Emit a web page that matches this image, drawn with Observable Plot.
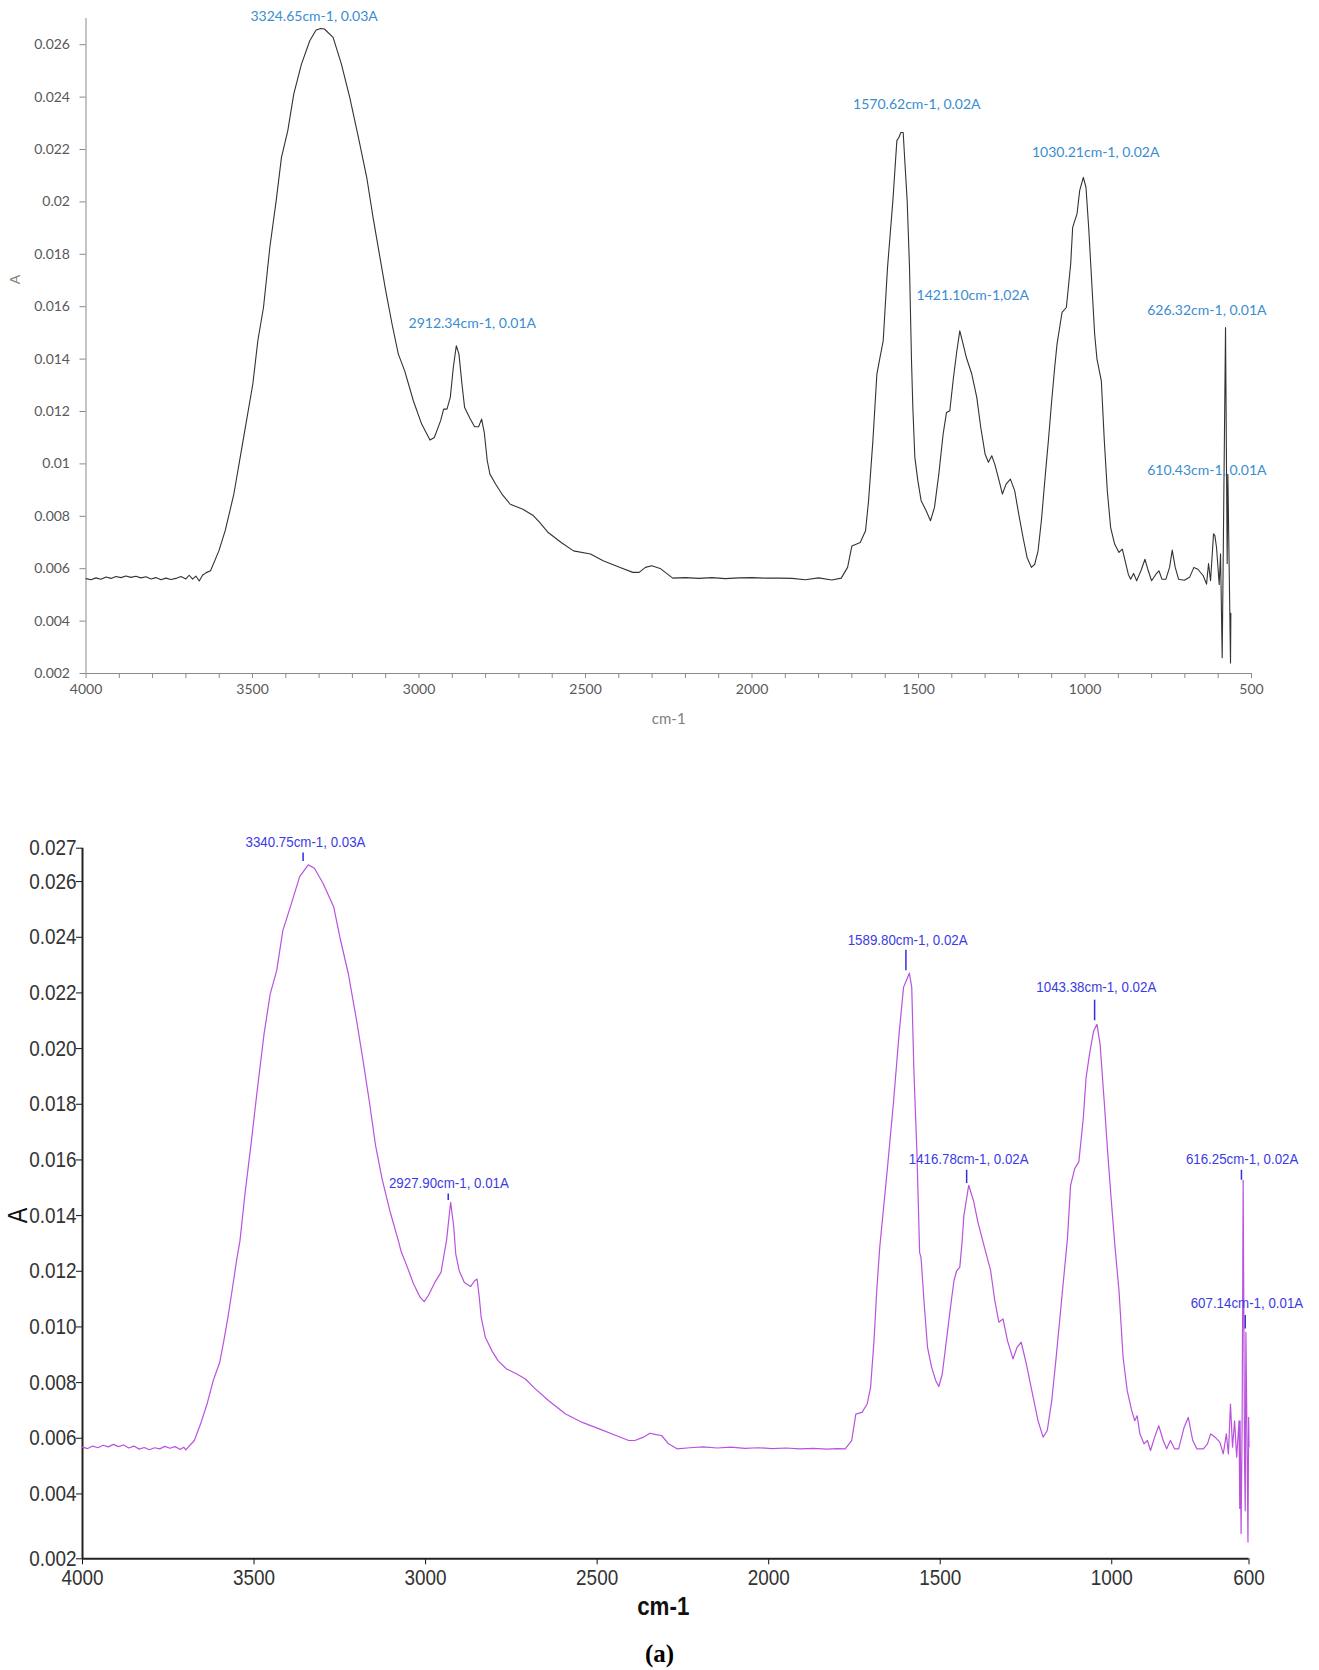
<!DOCTYPE html>
<html>
<head>
<meta charset="utf-8">
<script src="https://cdn.jsdelivr.net/npm/d3@7"></script>
<script src="https://cdn.jsdelivr.net/npm/@observablehq/plot@0.6"></script>
<style>
  html, body { margin: 0; padding: 0; background: #fff; }
  #top { position: absolute; left: 0; top: 0; }
  #bottom { position: absolute; left: 0; top: 800px; }
  #cap { position: absolute; left: 0; top: 1640px; width: 1319px; text-align: center;
         font: bold 25px "Liberation Serif", "Times New Roman", serif; line-height: 28px; color: #000; }
  svg { overflow: visible; }
</style>
</head>
<body>
<div id="top"></div>
<div id="bottom"></div>
<div id="cap">(a)</div>
<script>
// ---------- DATA: top spectrum (wavenumber cm-1, absorbance A) ----------
const topSpectrum = [
  [4000,0.00562],[3985,0.00558],[3970,0.00565],[3955,0.0056],[3940,0.00568],[3925,0.00563],[3910,0.0057],
  [3895,0.00566],[3880,0.00572],[3865,0.00567],[3850,0.00571],[3835,0.00565],[3820,0.00569],[3805,0.00561],
  [3790,0.00566],[3775,0.00558],[3760,0.00564],[3745,0.00559],[3730,0.00563],[3715,0.0057],[3700,0.00561],
  [3690,0.00575],[3680,0.0056],[3670,0.00572],[3660,0.00553],[3650,0.00575],[3639,0.00585],
  [3626,0.00592],[3601,0.00668],[3582,0.00745],[3556,0.00885],[3537,0.01025],[3518,0.01165],[3499,0.01305],
  [3484,0.0147],[3467,0.01597],[3448,0.01826],[3429,0.02004],[3413,0.0217],[3394,0.02272],[3376,0.02412],
  [3353,0.02526],[3328,0.02615],[3309,0.02656],[3295,0.02662],[3284,0.0266],[3258,0.02628],[3233,0.02526],
  [3208,0.02399],[3182,0.02246],[3157,0.02094],[3138,0.01941],[3119,0.01801],[3100,0.01661],[3081,0.01534],
  [3062,0.01419],[3043,0.01355],[3017,0.01241],[2992,0.01152],[2967,0.01091],[2954,0.01101],[2935,0.01165],
  [2926,0.01209],[2916,0.01209],[2906,0.01254],[2897,0.01368],[2888,0.01451],[2880,0.01419],[2871,0.01305],
  [2863,0.01215],[2846,0.01171],[2833,0.01142],[2821,0.01142],[2812,0.01171],[2804,0.0112],[2795,0.01012],
  [2787,0.00961],[2770,0.00923],[2751,0.00885],[2726,0.00846],[2688,0.00827],[2656,0.00802],[2637,0.00776],
  [2612,0.00738],[2573,0.007],[2536,0.00668],[2485,0.00656],[2447,0.0063],[2396,0.00605],[2358,0.00586],
  [2339,0.00586],[2320,0.00605],[2301,0.00611],[2276,0.00601],[2238,0.00564],
  [2200,0.00566],[2160,0.00563],[2120,0.00566],[2080,0.00562],[2040,0.00565],[2000,0.00566],[1960,0.00564],
  [1920,0.00564],[1880,0.00563],[1840,0.00558],[1800,0.00565],[1760,0.00557],[1732,0.00564],
  [1713,0.00605],[1700,0.00687],[1675,0.007],[1659,0.00745],[1650,0.00859],[1637,0.01088],[1625,0.01343],
  [1618,0.0139],[1606,0.0147],[1593,0.0175],[1577,0.02004],[1565,0.02234],[1559,0.02246],[1553,0.02265],
  [1546,0.02265],[1540,0.02132],[1534,0.02004],[1527,0.0175],[1521,0.01394],[1517,0.01215],[1511,0.01025],
  [1502,0.00936],[1492,0.00859],[1477,0.00821],[1464,0.00783],[1452,0.00834],[1439,0.00961],[1426,0.01114],
  [1416,0.01196],[1406,0.01203],[1395,0.0133],[1385,0.0143],[1376,0.01508],[1366,0.01457],[1356,0.01405],
  [1340,0.01343],[1325,0.01254],[1313,0.01139],[1300,0.01037],[1290,0.01006],[1280,0.01031],[1271,0.00999],
  [1258,0.00936],[1248,0.00885],[1237,0.00923],[1224,0.00942],[1211,0.00897],[1199,0.00808],[1186,0.00719],
  [1174,0.00643],[1161,0.00605],[1151,0.00617],[1141,0.00668],[1131,0.00783],[1119,0.00961],[1110,0.01088],
  [1100,0.01241],[1091,0.01368],[1084,0.01457],[1069,0.01578],[1056,0.01597],[1043,0.01763],[1037,0.01903],
  [1024,0.01954],[1016,0.02043],[1005,0.02094],[997,0.02055],[989,0.01903],[980,0.01699],[971,0.01495],
  [964,0.014],[951,0.01317],[942,0.01088],[933,0.00897],[923,0.00757],[911,0.00694],[898,0.00662],
  [888,0.00675],[882,0.00643],[870,0.00579],[863,0.0056],[854,0.00582],[845,0.00554],[832,0.00592],
  [820,0.00636],[810,0.00592],[800,0.00554],[787,0.00579],[778,0.00592],[769,0.0056],[757,0.0056],
  [746,0.00605],[738,0.00671],[729,0.00605],[719,0.0056],[702,0.00556],[686,0.00567],[673,0.00605],
  [661,0.00598],[645,0.00573],[635,0.00541],[629,0.0062],[623,0.00554],[614,0.00733],[610,0.00726],
  [605,0.00681],[597,0.0054],[593,0.00657],[588,0.0026],[578,0.0152],[573,0.0062],[571,0.0096],
  [563,0.0024],[562,0.0043]
];

// ---------- DATA: bottom spectrum ----------
const bottomSpectrum = [
  [4000,0.00568],[3985,0.00563],[3970,0.00572],[3955,0.00566],[3940,0.00575],[3925,0.00569],[3910,0.00578],
  [3895,0.0057],[3880,0.00576],[3865,0.00565],[3850,0.00572],[3835,0.00561],[3820,0.00567],[3805,0.00559],
  [3790,0.00566],[3775,0.00562],[3760,0.00571],[3745,0.00564],[3730,0.0057],[3715,0.0056],[3705,0.00568],
  [3699,0.00558],[3674,0.00592],[3656,0.00651],[3637,0.00723],[3619,0.00807],[3600,0.00873],[3588,0.00951],
  [3576,0.01035],[3564,0.01131],[3551,0.01238],[3541,0.0131],[3527,0.01472],[3508,0.01665],[3490,0.01858],
  [3471,0.02051],[3453,0.02196],[3434,0.0228],[3416,0.02425],[3391,0.02522],[3367,0.02618],[3342,0.0266],
  [3324,0.02648],[3299,0.02594],[3268,0.0251],[3250,0.02401],[3225,0.02268],[3201,0.021],[3182,0.01955],
  [3164,0.0181],[3146,0.01653],[3127,0.01533],[3103,0.01412],[3078,0.01304],[3072,0.01274],[3053,0.01214],
  [3035,0.01154],[3016,0.01107],[3004,0.01091],[2992,0.01113],[2973,0.0116],[2955,0.01196],[2946,0.01262],
  [2939,0.0131],[2927,0.01448],[2918,0.0136],[2912,0.01262],[2902,0.01202],[2887,0.0116],[2869,0.01145],
  [2857,0.01166],[2850,0.01172],[2844,0.01113],[2838,0.01035],[2826,0.00963],[2807,0.00915],[2789,0.00879],
  [2764,0.00849],[2734,0.00831],[2709,0.00813],[2685,0.00783],[2641,0.00735],[2592,0.00687],[2543,0.00657],
  [2494,0.00634],[2445,0.0061],[2408,0.00592],[2390,0.00592],[2365,0.00604],[2346,0.00618],[2328,0.00613],
  [2312,0.0061],[2292,0.0058],[2267,0.00562],
  [2230,0.00566],[2190,0.00569],[2150,0.00565],[2110,0.00568],[2070,0.00564],[2030,0.00566],[1990,0.00563],
  [1950,0.00565],[1910,0.00562],[1870,0.00564],[1830,0.00561],[1800,0.00563],[1777,0.00562],
  [1758,0.00592],[1746,0.00687],[1728,0.00693],[1713,0.00723],[1703,0.00783],[1693,0.00951],[1685,0.01131],
  [1676,0.0129],[1654,0.01569],[1636,0.0181],[1620,0.02051],[1607,0.0222],[1599,0.02244],[1590,0.02271],
  [1583,0.0222],[1577,0.01931],[1568,0.01629],[1560,0.01267],[1556,0.0125],[1546,0.01071],[1537,0.00927],
  [1525,0.00855],[1513,0.00807],[1504,0.00786],[1494,0.00831],[1482,0.00951],[1470,0.01071],[1460,0.01166],
  [1452,0.01202],[1443,0.01214],[1436,0.0131],[1431,0.014],[1417,0.01509],[1403,0.01454],[1390,0.01376],
  [1372,0.0129],[1353,0.01202],[1341,0.01095],[1329,0.01017],[1317,0.01029],[1304,0.00951],[1288,0.00885],
  [1276,0.00927],[1264,0.00945],[1249,0.00867],[1231,0.00759],[1215,0.00663],[1200,0.00604],[1188,0.00628],
  [1175,0.00735],[1163,0.00879],[1151,0.01035],[1139,0.0119],[1129,0.0132],[1120,0.01509],[1108,0.01569],
  [1096,0.01593],[1083,0.0175],[1075,0.01894],[1065,0.01979],[1053,0.02063],[1043,0.02087],[1034,0.02015],
  [1022,0.0181],[1012,0.01629],[1001,0.01448],[990,0.0128],[979,0.01131],[967,0.00891],[955,0.00771],
  [942,0.007],[933,0.00663],[926,0.00681],[918,0.00616],[906,0.0058],[896,0.00592],[887,0.00556],
  [875,0.00604],[863,0.00645],[850,0.00592],[840,0.00562],[829,0.00592],[817,0.00562],[805,0.00562],
  [789,0.0064],[777,0.00675],[764,0.00592],[752,0.00562],[733,0.00562],[721,0.0058],[712,0.00616],
  [699,0.00604],[685,0.00586],[675,0.00544],[666,0.00616],[660,0.00544],[654,0.00723],[648,0.00568],
  [642,0.00663],[636,0.00532],[629,0.00663],[627,0.00348],[626,0.00663],[623,0.00258],[620,0.00663],
  [617,0.01527],[613,0.0052],[611,0.0034],[609,0.00981],[606,0.0062],[603,0.00227],[601,0.00675],[600,0.0057]
];

// ---------- DATA: peak annotations ----------
const topPeakLabels = ["3324.65cm-1, 0.03A", "2912.34cm-1, 0.01A", "1570.62cm-1, 0.02A", "1421.10cm-1,02A",
                       "1030.21cm-1, 0.02A", "626.32cm-1, 0.01A", "610.43cm-1, 0.01A"];
const topPeakX = [3315, 2840, 1505, 1337, 968, 634, 634];
const topPeakY = [0.02707, 0.01536, 0.02373, 0.01642, 0.02189, 0.01585, 0.00976];

const bottomPeakLabels = ["3340.75cm-1, 0.03A", "2927.90cm-1, 0.01A", "1589.80cm-1, 0.02A", "1416.78cm-1, 0.02A",
                          "1043.38cm-1, 0.02A", "616.25cm-1, 0.02A", "607.14cm-1, 0.01A"];
const bottomPeakX = [3350, 2932, 1595, 1417, 1045, 620, 606];
const bottomPeakY = [0.02741, 0.01517, 0.02389, 0.01603, 0.0222, 0.01603, 0.01085];
const bottomMarkX = [3357, 2934, 1600, 1423, 1050, 622, 611];
const bottomMarkTop = [0.02703, 0.01478, 0.02353, 0.01563, 0.02174, 0.01563, 0.01041];
const bottomMarkBottom = [0.02672, 0.01454, 0.0228, 0.01515, 0.021, 0.01527, 0.00993];

// ---------- DATA: ticks ----------
const topXTicks = [4000,3900,3800,3700,3600,3500,3400,3300,3200,3100,3000,2900,2800,2700,2600,2500,2400,2300,
                   2200,2100,2000,1900,1800,1700,1600,1500,1400,1300,1200,1100,1000,900,800,700,600,500];
const topXLabels = [4000,3500,3000,2500,2000,1500,1000,500];
const topYTicks = [0.002,0.004,0.006,0.008,0.01,0.012,0.014,0.016,0.018,0.02,0.022,0.024,0.026];
const bottomXTicks = [4000,3500,3000,2500,2000,1500,1000,600];
const bottomYTicks = [0.00167,0.004,0.006,0.008,0.010,0.012,0.014,0.016,0.018,0.020,0.022,0.024,0.026,0.0272];

// ---------- TOP CHART ----------
const topChart = Plot.plot({
  width: 1319, height: 740,
  marginTop: 18, marginBottom: 67, marginLeft: 85.5, marginRight: 68,
  style: {fontFamily: "Lato, 'Open Sans', sans-serif", fontSize: "14px", color: "#595959", background: "#fff"},
  x: {domain: [4000, 500]},
  y: {domain: [0.002, 0.027]},
  marks: [
    Plot.axisX({ticks: topXTicks, tickFormat: d => topXLabels.includes(d) ? String(d) : "",
                tickSize: 5, tickPadding: 6, label: null, stroke: "#8a8a8a"}),
    Plot.axisY({ticks: topYTicks, tickFormat: d => String(+d.toFixed(3)),
                tickSize: 6, tickPadding: 10, label: null, stroke: "#8a8a8a"}),
    Plot.ruleX([4000], {stroke: "#8a8a8a"}),
    Plot.ruleY([0.002], {stroke: "#8a8a8a"}),
    Plot.line(topSpectrum, {x: d => d[0], y: d => d[1], stroke: "#333", strokeWidth: 1.1}),
    Plot.text(topPeakLabels, {x: (d, i) => topPeakX[i], y: (d, i) => topPeakY[i], text: d => d,
                              fill: "#3a8dd0", fontSize: 14}),
    Plot.text(["cm-1"], {frameAnchor: "bottom", dy: 46, lineAnchor: "middle", text: d => d,
                         fontSize: 15, fill: "#7f7f7f"}),
    Plot.text(["A"], {frameAnchor: "left", dx: -70.5, dy: -66.5, rotate: -90, textAnchor: "middle",
                      lineAnchor: "middle", text: d => d, fontSize: 14, fill: "#7f7f7f"})
  ]
});
document.getElementById("top").append(topChart);

// ---------- BOTTOM CHART ----------
const sans = "'Liberation Sans', Arial, sans-serif";
const bottomChart = Plot.plot({
  width: 1319, height: 870,
  marginTop: 47.7, marginBottom: 111.7, marginLeft: 82, marginRight: 70.5,
  style: {fontFamily: sans, fontSize: "22px", color: "#333", background: "#fff"},
  x: {domain: [4000, 600]},
  y: {domain: [0.00167, 0.0272]},
  marks: [
    Plot.axisX({ticks: bottomXTicks, tickFormat: d => String(d), tickSize: 6, tickPadding: 5,
                label: null, stroke: "#111"}),
    Plot.axisY({ticks: bottomYTicks, tickFormat: d => d.toFixed(3), tickSize: 6, tickPadding: 0,
                label: null, stroke: "#111"}),
    Plot.ruleX([4000], {stroke: "#222", strokeWidth: 2}),
    Plot.ruleY([0.00167], {stroke: "#222", strokeWidth: 2}),
    Plot.line(bottomSpectrum, {x: d => d[0], y: d => d[1], stroke: "#b952dd", strokeWidth: 1.2}),
    Plot.ruleX(bottomMarkX, {x: d => d, y1: (d, i) => bottomMarkBottom[i], y2: (d, i) => bottomMarkTop[i],
                             stroke: "#2f2fe0", strokeWidth: 1.5}),
    Plot.text(bottomPeakLabels, {x: (d, i) => bottomPeakX[i], y: (d, i) => bottomPeakY[i], text: d => d,
                                 fill: "#3b3be6", fontSize: 15.5, fontFamily: sans}),
    Plot.text(["cm-1"], {frameAnchor: "bottom", dx: -2.5, dy: 48.3, lineAnchor: "middle", text: d => d,
                         fontSize: 26, fontWeight: "bold", fill: "#111", fontFamily: sans}),
    Plot.text(["A"], {frameAnchor: "left", dx: -64, dy: 12, rotate: -90, textAnchor: "middle",
                      lineAnchor: "middle", text: d => d, fontSize: 27, fill: "#111", fontFamily: sans})
  ]
});
// narrow (Arial-Narrow-like) glyphs: scale each text horizontally about its own anchor
bottomChart.querySelectorAll("text").forEach(t => {
  const xa = t.getAttribute("x");
  let pre = "";
  if (xa !== null && /^-?[\d.]+$/.test(xa.trim())) { pre = ` translate(${+xa},0)`; t.removeAttribute("x"); }
  const tr = t.getAttribute("transform") || "";
  t.setAttribute("transform", `${tr}${pre} scale(0.86,1)`);
});
document.getElementById("bottom").append(bottomChart);
</script>
</body>
</html>
